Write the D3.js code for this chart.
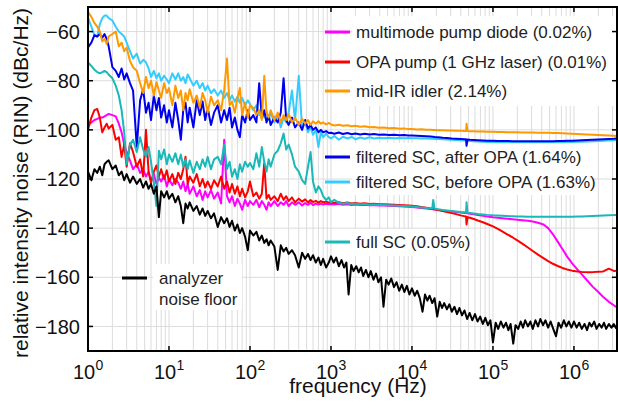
<!DOCTYPE html>
<meta charset="utf-8">
<script src="https://d3js.org/d3.v7.min.js"></script>
<style>
  body { margin: 0; background: #fff; }
  svg { font-family: Arial, "Liberation Sans", Helvetica, sans-serif; }
</style>
<div id="rin"></div>
<script>

// frequencies (Hz), noisy part up to 1 kHz
var freqLow = [
  1, 1.1, 1.2, 1.3, 1.4, 1.5, 1.6, 1.7, 1.8, 2,
  2.2, 2.4, 2.6, 2.8, 3, 3.3, 3.6, 4, 4.4, 4.8,
  5.2, 5.6, 6, 6.5, 7, 7.5, 8, 8.7, 9.4, 10,
  11, 12, 13, 14, 15, 16, 17, 18, 20, 22,
  24, 26, 28, 30, 33, 36, 40, 44, 48, 52,
  56, 60, 65, 70, 75, 80, 87, 94, 100, 110,
  120, 130, 140, 150, 160, 170, 180, 200, 220, 240,
  260, 280, 300, 330, 360, 400, 440, 480, 520, 560,
  600, 650, 700, 750, 800, 870, 940]

// frequencies (Hz), 1 kHz to the end of the axis
var freqHigh = [
  1000, 1100, 1250, 1400, 1600, 1800, 2000, 2300, 2600, 3000,
  3400, 3900, 4500, 5200, 6000, 7000, 8000, 9000, 10000, 11500,
  13000, 15000, 17000, 17800, 18300, 19000, 21000, 24000, 27000, 31000,
  35000, 40000, 45000, 46500, 47200, 48500, 52000, 58000, 65000, 75000,
  85000, 1e5, 1.15e5, 1.3e5, 1.5e5, 1.75e5, 2e5, 2.3e5, 2.7e5, 3.1e5,
  3.6e5, 4.2e5, 4.8e5, 5.5e5, 6.3e5, 7.2e5, 8.2e5, 9.5e5, 1.1e6, 1.25e6,
  1.45e6, 1.7e6, 2e6, 2.3e6, 2.7e6, 3.1e6, 3.4e6]

// denser frequencies for the analyzer floor above 1 kHz
var floorFreqHigh = [
  1000, 1080, 1160, 1250, 1350, 1450, 1550, 1650, 1780, 1900,
  2050, 2200, 2350, 2500, 2700, 2900, 3100, 3350, 3600, 3850,
  4150, 4450, 4800, 5150, 5550, 6000, 6450, 6950, 7500, 8050,
  8650, 9300,
  10000, 10800, 11600, 12500, 13500, 14500, 15500, 16500, 17800, 19000,
  20500, 22000, 23500, 25000, 27000, 29000, 31000, 33500, 36000, 38500,
  41500, 44500, 48000, 51500, 55500, 60000, 64500, 69500, 75000, 80500,
  86500, 93000,
  1e5, 1.08e5, 1.16e5, 1.25e5, 1.35e5, 1.45e5, 1.55e5, 1.65e5, 1.78e5, 1.9e5,
  2.05e5, 2.2e5, 2.35e5, 2.5e5, 2.7e5, 2.9e5, 3.1e5, 3.35e5, 3.6e5, 3.85e5,
  4.15e5, 4.45e5, 4.8e5, 5.15e5, 5.55e5, 6e5, 6.45e5, 6.95e5, 7.5e5, 8.05e5,
  8.65e5, 9.3e5,
  1e6, 1.08e6, 1.16e6, 1.25e6, 1.35e6, 1.45e6, 1.55e6, 1.65e6, 1.78e6, 1.9e6,
  2.05e6, 2.2e6, 2.35e6, 2.5e6, 2.7e6, 2.9e6, 3.1e6, 3.35e6]

// RIN values in dBc/Hz
var pumpDiodeLow = [
  -98, -97, -96, -95.5, -95, -95, -94.5, -94, -93.5, -94,
  -94.5, -97.5, -101, -106, -109, -112.5, -116, -114, -117.5, -116,
  -119, -117, -121, -118, -122, -119.5, -121, -118.5, -123, -120,
  -122.5, -120, -121.5, -124, -121, -125, -122, -126, -123, -127,
  -124.5, -128.5, -125, -127.5, -124.5, -128, -125.5, -130, -104, -127,
  -129.5, -127, -131, -128, -130, -132.5, -128.5, -131, -129, -130.5,
  -128.5, -131.5, -129, -130.5, -132.5, -129.5, -131, -129, -131, -129.5,
  -130.5, -129, -131, -129.5, -130.5, -129.5, -130.8, -129.8, -130.5, -129.7,
  -130.6, -130, -130.4, -130, -130.4, -130.1, -130.3]
var pumpDiodeHigh = [
  -130.2, -130.4, -130.1, -130.5, -130.3, -130.6, -130.4, -130.6, -130.5, -130.7,
  -130.6, -130.8, -130.8, -130.9, -131.0, -131.1, -131.2, -131.3, -131.4, -131.6,
  -131.8, -132.0, -132.2, -132.3, -132.3, -132.4, -132.6, -132.8, -133.0, -133.2,
  -133.4, -133.6, -133.8, -133.8, -133.9, -133.9, -134.1, -134.4, -134.7, -135.0,
  -135.3, -135.6, -135.8, -136.0, -136.2, -136.4, -136.6, -136.8, -137.0, -137.3,
  -137.8, -138.5, -140.0, -142.5, -145.5, -148.5, -151.5, -154.3, -156.8, -158.8,
  -161.2, -163.8, -166.0, -168.0, -170.0, -171.4, -172.3]

var opaPumpLow = [
  -100, -95, -92, -91.5, -95, -101, -99, -97.5, -99.5, -98,
  -104, -103, -111, -106, -115, -105.5, -109, -115, -112, -119,
  -100, -117, -121.5, -117, -114.5, -119, -116, -120, -116.5, -121,
  -118, -122, -117.5, -120, -116, -111, -122, -119, -121.5, -118,
  -123, -120, -123.5, -121, -124, -120.5, -123, -119, -124, -121,
  -125.5, -122, -126, -123, -127, -124, -127.5, -125, -121, -127,
  -125.5, -128, -126, -113.5, -128, -126.5, -128.5, -127, -129, -126,
  -128.5, -127, -129, -127.5, -129.5, -128, -129.2, -128.3, -129.5, -128.6,
  -129.4, -128.9, -129.6, -129, -129.5, -129.2, -129.6]
var opaPumpHigh = [
  -129.5, -129.8, -129.4, -129.9, -129.6, -130.0, -129.8, -130.1, -129.9, -130.2,
  -130.1, -130.3, -130.3, -130.4, -130.5, -130.6, -130.7, -130.8, -130.9, -131.1,
  -131.4, -131.7, -132.0, -132.1, -132.2, -132.3, -132.6, -133.0, -133.4, -133.9,
  -134.3, -134.8, -135.2, -135.3, -138.5, -135.5, -135.8, -136.3, -136.9, -137.6,
  -138.3, -139.3, -140.3, -141.3, -142.5, -143.8, -145.0, -146.3, -147.9, -149.3,
  -150.8, -152.2, -153.4, -154.5, -155.4, -156.2, -156.8, -157.3, -157.6, -157.8,
  -157.9, -157.9, -157.7, -157.6, -156.5, -157.4, -157.3]

var idlerLow = [
  -52, -54, -56.5, -58, -60, -64, -63, -65, -62, -61,
  -60, -66, -64.5, -68, -66.5, -72, -74.5, -76, -81, -85,
  -78.5, -83, -80, -86, -80.5, -84, -87, -81, -85, -83,
  -90, -82, -87, -84, -92, -85, -88, -83.5, -89, -86,
  -91, -85, -88, -93, -86.5, -90, -88, -92, -84, -71,
  -90, -88.5, -93, -87, -83, -94, -89, -95, -90, -91,
  -94, -92, -96, -78, -93, -95, -92, -96, -93, -97,
  -94, -96, -93.5, -97, -95, -98, -95.5, -97.5, -96, -98,
  -96.5, -97.5, -96.5, -97.5, -97, -97.8, -97.2]
var idlerHigh = [
  -97.8, -98.2, -97.9, -98.3, -98.1, -98.5, -98.3, -98.7, -98.5, -98.9,
  -98.8, -99.1, -99.0, -99.3, -99.2, -99.5, -99.4, -99.7, -99.7, -99.9,
  -99.8, -100.0, -100.0, -100.1, -100.1, -100.1, -100.2, -100.2, -100.3, -100.3,
  -100.4, -100.4, -100.5, -100.5, -97.5, -100.5, -100.6, -100.6, -100.7, -100.7,
  -100.8, -100.8, -100.9, -100.9, -101.0, -101.0, -101.0, -101.1, -101.1, -101.1,
  -101.2, -101.2, -101.2, -101.3, -101.3, -101.4, -101.5, -101.6, -101.7, -101.8,
  -101.9, -102.0, -102.1, -102.2, -102.3, -102.4, -102.5]

var afterOpaLow = [
  -66.5, -64.5, -61.5, -62, -61, -62.5, -61, -63, -66, -74.5,
  -76, -78.5, -75, -79.5, -77, -81, -84, -107, -88, -83.5,
  -93, -89, -96, -86, -92, -87, -95, -90, -97, -92,
  -99, -89, -96, -104, -92, -89, -97, -91, -99, -88,
  -94, -88.5, -96, -91, -98, -93, -90, -97, -92, -96,
  -91, -99, -95, -100, -103, -94, -97, -92, -96, -94,
  -97, -81, -95, -92, -97, -94, -98, -95, -97, -93,
  -79, -96, -98, -95, -99, -97, -100, -96, -99.5, -98,
  -100, -99, -101, -100, -101, -100.5, -101.3]
var afterOpaHigh = [
  -101.2, -101.6, -101.1, -101.7, -101.3, -101.8, -101.5, -101.9, -101.6, -101.9,
  -101.7, -102.0, -101.9, -102.1, -102.0, -102.2, -102.1, -102.3, -102.3, -102.4,
  -102.5, -102.6, -102.7, -102.8, -102.8, -102.9, -103.0, -103.2, -103.3, -103.5,
  -103.6, -103.7, -103.8, -103.8, -106.5, -103.9, -104.0, -104.1, -104.2, -104.3,
  -104.4, -104.4, -104.5, -104.5, -104.5, -104.6, -104.6, -104.6, -104.6, -104.6,
  -104.6, -104.6, -104.6, -104.6, -104.5, -104.5, -104.4, -104.4, -104.3, -104.2,
  -104.1, -104.0, -103.9, -103.8, -103.7, -103.6, -103.5]

var beforeOpaLow = [
  -54.3, -58, -61.5, -62, -57, -54.5, -53.5, -53.5, -54.5, -55.5,
  -58, -60, -61, -62, -64.5, -68, -71, -69, -73, -71.5,
  -72.5, -75, -78.5, -76, -79, -77, -80, -78, -79.5, -81,
  -77, -79.5, -77, -80, -78.5, -81, -77.5, -79, -82, -80,
  -83, -81, -84, -82, -85, -83.5, -86, -84, -87, -85,
  -88, -86, -88.5, -86.5, -89, -87, -90, -88, -89.5, -92,
  -90, -94, -91, -95, -92.5, -96, -93, -97, -94, -99,
  -95, -97, -93, -84, -96, -78, -99, -97, -101, -99,
  -102, -100, -107, -101, -103, -101.5, -103]
var beforeOpaHigh = [
  -103.5, -102.5, -104, -102.8, -103.5, -102.9, -103.8, -103.1, -103.6, -103.0,
  -103.5, -103.2, -103.4, -103.2, -103.4, -103.3, -103.4, -103.3, -103.4, -103.4,
  -103.5, -103.5, -103.6, -103.6, -103.6, -103.7, -103.7, -103.8, -103.9, -104.0,
  -104.1, -104.2, -104.3, -104.3, -104.3, -104.4, -104.5, -104.6, -104.7, -104.8,
  -104.9, -104.9, -105.0, -105.0, -105.0, -105.0, -105.0, -105.0, -105.0, -105.0,
  -105.0, -105.0, -105.0, -105.0, -105.0, -105.0, -104.9, -104.9, -104.8, -104.8,
  -104.7, -104.6, -104.5, -104.4, -104.3, -104.2, -104.1]

var fullScLow = [
  -72.6, -74, -75.5, -76.5, -77, -76.5, -76, -76.5, -77.5, -79,
  -82, -86, -92, -101, -114, -106, -104, -109, -103, -108,
  -111, -107, -113, -121.5, -131, -108.5, -112, -108, -114, -110,
  -113, -109.5, -114, -110, -115, -112, -116, -112.5, -117.5, -113,
  -116, -112, -115, -111, -116, -112, -111, -114, -106, -116,
  -113, -119, -116, -120, -114, -117, -113, -115, -113.5, -116,
  -109.5, -115, -107, -113, -117, -112, -115, -110, -108.5, -105.5,
  -101.5, -108, -106, -110, -115, -117, -120.5, -122, -115, -109,
  -121, -125.5, -123, -124.5, -127, -128.5, -127.5]
var fullScHigh = [
  -129.4, -128.5, -129.7, -130.1, -129.8, -130.3, -130.0, -130.4, -130.2, -130.5,
  -130.4, -130.6, -130.6, -130.7, -130.8, -130.9, -131.0, -131.1, -131.2, -131.4,
  -131.6, -131.8, -132.0, -132.0, -128.5, -132.1, -132.3, -132.6, -132.8, -133.0,
  -133.2, -133.4, -133.5, -133.6, -129.5, -133.7, -133.8, -134.0, -134.2, -134.4,
  -134.6, -134.8, -134.9, -135.0, -135.1, -135.2, -135.3, -135.3, -135.4, -135.4,
  -135.4, -135.4, -135.4, -135.4, -135.4, -135.4, -135.4, -135.4, -135.3, -135.3,
  -135.2, -135.1, -135.0, -134.9, -134.8, -134.7, -134.6]

var noiseFloorLow = [
  -117, -120.5, -116, -117.5, -115, -118.5, -114, -113, -112.4, -116,
  -114.5, -118.5, -117, -120.5, -118, -121.5, -119, -122, -120, -123.5,
  -121, -124, -122, -126, -123, -135.5, -125, -127.5, -125, -128,
  -126, -129.5, -127, -131, -138, -130, -132, -129.5, -133, -131,
  -134.5, -132, -135, -133, -136, -134, -139.5, -135.5, -138, -136,
  -139.5, -137, -141, -138.5, -142, -140, -143.5, -149, -141, -143,
  -141.5, -145, -143, -146, -144.5, -147, -145, -147.5, -157, -147,
  -149.5, -148, -150.5, -149, -151, -156, -150, -152.5, -150.5, -153,
  -151, -154, -152, -155, -152.5, -156, -154]
var noiseFloorHigh = [
  -151.5, -154, -152, -155.5, -153, -156, -154, -167, -155, -157.5,
  -155.5, -158, -156, -159.5, -157, -160, -157.5, -161, -158.5, -162,
  -160, -172, -161, -163, -160.5, -164, -162, -165.5, -163, -166,
  -163.5, -167,
  -164.5, -167.5, -165.5, -168.5, -174, -167, -169.5, -167.5, -170.5, -168.5,
  -176, -170, -172.5, -170.5, -173, -171, -174, -172, -175, -172.5,
  -175.5, -173.5, -177, -174.5, -177.5, -175, -178, -176, -179, -176.5,
  -179.5, -177.5,
  -186.5, -178.5, -181, -178, -180.5, -178.5, -181.5, -179, -187, -179.5,
  -181, -178, -180.5, -177.5, -180, -178, -181, -177.5, -180, -177,
  -179.5, -177.5, -180.5, -178, -181, -184, -178.5, -180.5, -177.5, -180,
  -178, -180.5,
  -178, -180.5, -178.5, -181, -179, -181.5, -178.5, -180, -178, -181,
  -179, -180.5, -178.5, -181, -179, -180.5, -179, -181]

var legendLabels = [
  "multimode pump diode (0.02%)",
  "OPA pump (1 GHz laser) (0.01%)",
  "mid-IR idler (2.14%)",
  "filtered SC, after OPA (1.64%)",
  "filtered SC, before OPA (1.63%)",
  "full SC (0.05%)",
  "analyzer", "noise floor"]

var yTicks = [-180, -160, -140, -120, -100, -80, -60]
var xDecades = [0, 1, 2, 3, 4, 5, 6]

var w = 618
var h = 408
var margin = {top: 7, right: 1, bottom: 57, left: 88},
    innerWidth = w - margin.left - margin.right,
    innerHeight = h - margin.top - margin.bottom;

var svg = d3.select("#rin")
  .append("svg")
    .attr("width", w)
    .attr("height", h)

var g = svg.append("g")
  .attr("transform", `translate(${margin.left},${margin.top})`)

var xScale = d3.scaleLog()
  .domain([1, 3.4e6])
  .range([0, innerWidth])

var yScale = d3.scaleLinear()
  .domain([-190, -50])
  .range([innerHeight, 0])

//// grid
var gridX = []
xDecades.forEach(function(k) {
  for (var m = 1; m < 10; m++) {
    var f = m * Math.pow(10, k)
    if (f <= 3.4e6) gridX.push(f)
  }
})

g.append("g").selectAll("line")
  .data(gridX)
  .enter().append("line")
    .attr("x1", d => xScale(d)).attr("x2", d => xScale(d))
    .attr("y1", 0).attr("y2", innerHeight)
    .attr("stroke", "#dcdcdc")
    .attr("stroke-width", 1)

g.append("g").selectAll("line")
  .data(yTicks)
  .enter().append("line")
    .attr("x1", 0).attr("x2", innerWidth)
    .attr("y1", d => yScale(d)).attr("y2", d => yScale(d))
    .attr("stroke", "#dcdcdc")
    .attr("stroke-width", 1)

//// white boxes behind legend text
var boxes = [
  [352, 16, 616, 106],
  [352, 143, 592, 195],
  [352, 229, 474, 256],
  [153, 264, 242, 310]]

g.append("g").selectAll("rect")
  .data(boxes)
  .enter().append("rect")
    .attr("x", d => d[0] - margin.left)
    .attr("y", d => d[1] - margin.top)
    .attr("width", d => d[2] - d[0])
    .attr("height", d => d[3] - d[1])
    .attr("fill", "#fff")

//// curves
svg.append("defs").append("clipPath").attr("id", "clip")
  .append("rect").attr("width", innerWidth).attr("height", innerHeight)

var freqs = freqLow.concat(freqHigh)
var floorFreqs = freqLow.concat(floorFreqHigh)

var series = [
  {f: freqs, vals: beforeOpaLow.concat(beforeOpaHigh), color: "#33ccff"},
  {f: freqs, vals: afterOpaLow.concat(afterOpaHigh), color: "#0000f0"},
  {f: freqs, vals: idlerLow.concat(idlerHigh), color: "#ff9900"},
  {f: freqs, vals: pumpDiodeLow.concat(pumpDiodeHigh), color: "#ff00ff"},
  {f: freqs, vals: opaPumpLow.concat(opaPumpHigh), color: "#ff0000"},
  {f: freqs, vals: fullScLow.concat(fullScHigh), color: "#1ab8b8"},
  {f: floorFreqs, vals: noiseFloorLow.concat(noiseFloorHigh), color: "#000000"}]

var line = d3.line()
  .x(d => xScale(d[0]))
  .y(d => yScale(d[1]))

g.append("g")
  .attr("clip-path", "url(#clip)")
  .selectAll("path")
  .data(series)
  .enter().append("path")
    .attr("d", s => line(s.f.map((f, i) => [f, s.vals[i]])))
    .attr("fill", "none")
    .attr("stroke", s => s.color)
    .attr("stroke-width", 2)
    .attr("stroke-linejoin", "round")

//// legend
var legendRows = [
  {label: legendLabels[0], color: "#ff00ff", x: 325, y: 32},
  {label: legendLabels[1], color: "#ff0000", x: 325, y: 62},
  {label: legendLabels[2], color: "#ff9900", x: 325, y: 91},
  {label: legendLabels[3], color: "#0000f0", x: 325, y: 157},
  {label: legendLabels[4], color: "#33ccff", x: 325, y: 182},
  {label: legendLabels[5], color: "#1ab8b8", x: 325, y: 242}]

var leg = svg.append("g")

leg.selectAll("line")
  .data(legendRows)
  .enter().append("line")
    .attr("x1", d => d.x).attr("x2", d => d.x + 25)
    .attr("y1", d => d.y).attr("y2", d => d.y)
    .attr("stroke", d => d.color)
    .attr("stroke-width", 3)

leg.selectAll("text")
  .data(legendRows)
  .enter().append("text")
    .attr("x", d => d.x + 31)
    .attr("y", d => d.y)
    .attr("dy", "0.36em")
    .attr("font-size", "17px")
    .attr("fill", "#222")
    .text(d => d.label)

leg.append("line")
  .attr("x1", 122).attr("x2", 147)
  .attr("y1", 278).attr("y2", 278)
  .attr("stroke", "#000").attr("stroke-width", 3)

leg.append("text")
  .attr("x", 159).attr("y", 278).attr("dy", "0.36em")
  .attr("font-size", "17px").attr("fill", "#222")
  .text(legendLabels[6])
leg.append("text")
  .attr("x", 159).attr("y", 299).attr("dy", "0.36em")
  .attr("font-size", "17px").attr("fill", "#222")
  .text(legendLabels[7])

//// frame and ticks
g.append("rect")
  .attr("width", innerWidth).attr("height", innerHeight)
  .attr("fill", "none").attr("stroke", "#000").attr("stroke-width", 2)

var decadeVals = xDecades.map(k => Math.pow(10, k))

g.append("g").selectAll("line")
  .data(decadeVals)
  .enter().append("line")
    .attr("x1", d => xScale(d)).attr("x2", d => xScale(d))
    .attr("y1", innerHeight).attr("y2", innerHeight - 5)
    .attr("stroke", "#000").attr("stroke-width", 1.5)
g.append("g").selectAll("line")
  .data(decadeVals)
  .enter().append("line")
    .attr("x1", d => xScale(d)).attr("x2", d => xScale(d))
    .attr("y1", 0).attr("y2", 5)
    .attr("stroke", "#000").attr("stroke-width", 1.5)
g.append("g").selectAll("line")
  .data(yTicks)
  .enter().append("line")
    .attr("x1", 0).attr("x2", 5)
    .attr("y1", d => yScale(d)).attr("y2", d => yScale(d))
    .attr("stroke", "#000").attr("stroke-width", 1.5)
g.append("g").selectAll("line")
  .data(yTicks)
  .enter().append("line")
    .attr("x1", innerWidth - 5).attr("x2", innerWidth)
    .attr("y1", d => yScale(d)).attr("y2", d => yScale(d))
    .attr("stroke", "#000").attr("stroke-width", 1.5)

// tick labels: "10" plus a raised exponent
g.append("g").selectAll("text")
  .data(xDecades)
  .enter().append("text")
    .attr("x", k => xScale(Math.pow(10, k)) - 15)
    .attr("y", 372)
    .attr("font-size", "20px")
    .attr("fill", "#111")
    .text("10")
g.append("g").selectAll("text")
  .data(xDecades)
  .enter().append("text")
    .attr("x", k => xScale(Math.pow(10, k)) + 7.5)
    .attr("y", 363)
    .attr("font-size", "14px")
    .attr("fill", "#111")
    .text(k => k)

g.append("g").selectAll("text")
  .data(yTicks)
  .enter().append("text")
    .attr("x", -8)
    .attr("y", d => yScale(d))
    .attr("dy", "0.36em")
    .attr("text-anchor", "end")
    .attr("font-size", "20px")
    .attr("fill", "#111")
    .text(d => "\u2212" + Math.abs(d))

// axis labels
svg.append("text")
  .attr("x", 358).attr("y", 393)
  .attr("text-anchor", "middle")
  .attr("font-size", "21px")
  .attr("fill", "#111")
  .text("frequency (Hz)")

svg.append("text")
  .attr("transform", "rotate(-90)")
  .attr("x", -183).attr("y", 28)
  .attr("text-anchor", "middle")
  .attr("font-size", "21px")
  .attr("fill", "#111")
  .text("relative intensity noise (RIN) (dBc/Hz)")

</script>
